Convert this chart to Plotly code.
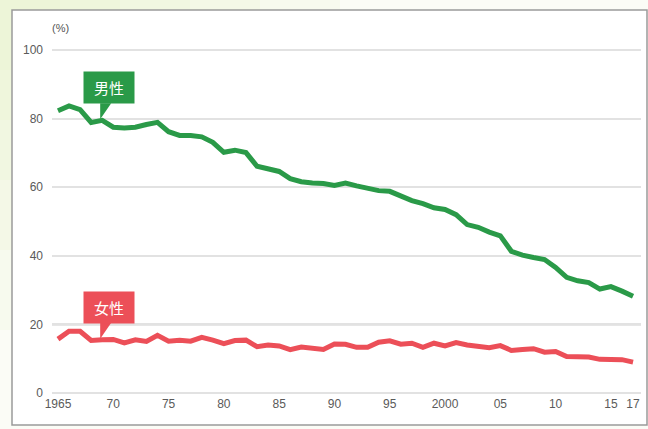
import plotly.graph_objects as go

years = list(range(1965, 2018))
male = [82.3, 83.7, 82.6, 78.9, 79.5, 77.5, 77.3, 77.5, 78.3, 78.9,
        76.2, 75.1, 75.1, 74.7, 73.1, 70.2, 70.8, 70.1, 66.1, 65.5,
        64.6, 62.5, 61.6, 61.2, 61.1, 60.5, 61.2, 60.4, 59.8, 59.0,
        58.8, 57.5, 56.1, 55.2, 54.0, 53.5, 52.0, 49.1, 48.3, 46.9,
        45.8, 41.3, 40.2, 39.5, 38.9, 36.6, 33.7, 32.7, 32.2, 30.3,
        31.0, 29.7, 28.2]
female = [15.7, 18.0, 18.0, 15.3, 15.5, 15.6, 14.6, 15.5, 15.0, 16.8,
          15.1, 15.4, 15.1, 16.2, 15.4, 14.4, 15.3, 15.4, 13.5, 14.0,
          13.7, 12.6, 13.4, 13.1, 12.7, 14.3, 14.2, 13.3, 13.3, 14.8,
          15.2, 14.2, 14.5, 13.3, 14.5, 13.7, 14.7, 14.0, 13.6, 13.2,
          13.8, 12.4, 12.7, 12.9, 11.9, 12.1, 10.6, 10.4, 10.5, 9.8,
          9.6, 9.7, 9.0]
tick_vals = [1965, 1970, 1975, 1980, 1985, 1990, 1995, 2000, 2005, 2010, 2015, 2017]
tick_text = ["1965", "70", "75", "80", "85", "90", "95", "2000", "05", "10", "15", "17"]
y_ticks = [0, 20, 40, 60, 80, 100]
strong_lines = [0, 20, 100]
label_year = 1969
male_label = "男性"
female_label = "女性"

GREEN = "#2a9a48"
RED = "#ec4f58"

fig = go.Figure()
fig.add_trace(go.Scatter(x=years, y=male, mode="lines",
                         line=dict(color=GREEN, width=5), hoverinfo="skip"))
fig.add_trace(go.Scatter(x=years, y=female, mode="lines",
                         line=dict(color=RED, width=5), hoverinfo="skip"))

L, R, T, B = 52, 7, 48, 34
W, H = 648, 429
pw, ph = W - L - R, H - T - B

def px(xp):
    return (xp - L) / pw

def py(yp):
    return (H - B - yp) / ph

shapes = []
# light green gradient in top-left background
for i, (wx, hy) in enumerate([(340, 330), (260, 250), (190, 180), (120, 120), (60, 70)]):
    shapes.append(dict(type="rect", xref="paper", yref="paper", layer="below",
                       x0=px(0), x1=px(wx), y0=py(hy), y1=py(0),
                       fillcolor="#e3efbf", opacity=0.14, line=dict(width=0)))
# white frame
shapes.append(dict(type="rect", xref="paper", yref="paper", layer="below",
                   x0=px(12), x1=px(647), y0=py(425), y1=py(10),
                   fillcolor="white", line=dict(color="#9a9a9a", width=1.5)))
# darker grid lines
for v in strong_lines:
    shapes.append(dict(type="line", xref="paper", yref="y", layer="below",
                       x0=0, x1=1, y0=v, y1=v,
                       line=dict(color="#9c9c9c", width=2)))

def pointer(yval, color):
    return dict(type="path", xref="x", yref="y", xsizemode="pixel", ysizemode="pixel",
                xanchor=label_year, yanchor=yval,
                path="M -2,1 L -2,17 L 9,17 Z", fillcolor=color,
                line=dict(width=0), layer="above")

shapes.append(pointer(male[label_year - years[0]], GREEN))
shapes.append(pointer(female[label_year - years[0]], RED))

annotations = [
    dict(text="(%)", xref="paper", yref="paper", x=px(50), y=py(28),
         xanchor="left", yanchor="middle", showarrow=False,
         font=dict(family="Liberation Sans", size=11, color="#555")),
]
for txt, val, col in [(male_label, male[label_year - years[0]], GREEN),
                      (female_label, female[label_year - years[0]], RED)]:
    annotations.append(dict(text=txt, x=label_year, y=val, xref="x", yref="y",
                            xanchor="left", yanchor="bottom", xshift=-19, yshift=16,
                            showarrow=False, bgcolor=col, borderpad=6,
                            width=38, height=19,
                            font=dict(family="Noto Sans CJK JP", size=15, color="white")))

fig.update_layout(
    width=W, height=H,
    margin=dict(l=L, r=R, t=T, b=B),
    paper_bgcolor="#fbfcf6",
    plot_bgcolor="white",
    showlegend=False,
    shapes=shapes,
    annotations=annotations,
    xaxis=dict(range=[1964.46, 2017.72], tickvals=tick_vals, ticktext=tick_text,
               showgrid=False, zeroline=False, showline=False, ticks="",
               tickfont=dict(family="Liberation Sans", size=12, color="#5a5a5a")),
    yaxis=dict(range=[-0.6, 100.6], tickvals=y_ticks, showgrid=True,
               gridcolor="#e2e2e2", gridwidth=1.5, zeroline=False, showline=False,
               ticks="", ticklabelstandoff=8,
               tickfont=dict(family="Liberation Sans", size=12, color="#5a5a5a")),
)

fig.write_html("out.html", config={"displayModeBar": False},
               post_script="document.body.style.margin='0';document.body.style.overflow='hidden';")
